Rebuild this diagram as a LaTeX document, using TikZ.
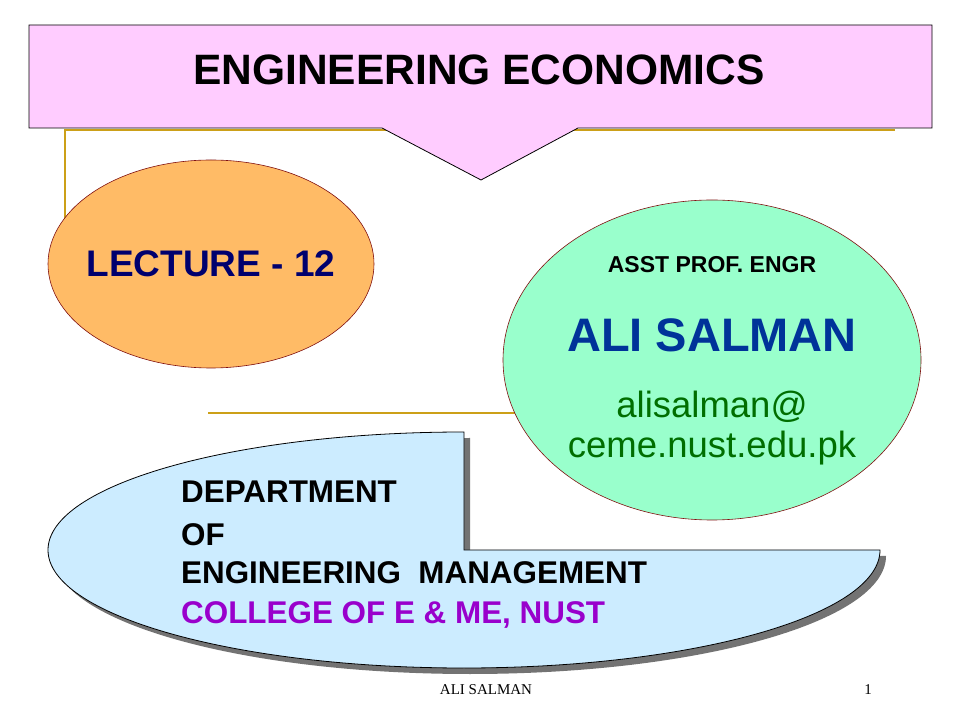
\documentclass[tikz,border=0pt]{standalone}
\usepackage{fontspec}
\setmainfont{Liberation Sans}
\newfontfamily\footfont{Liberation Serif}
\usetikzlibrary{positioning}
\usetikzlibrary{shapes.geometric}
\usetikzlibrary{calc}
\definecolor{bannerpink}{RGB}{255,204,255}
\definecolor{lectorange}{RGB}{255,187,102}
\definecolor{mintgreen}{RGB}{153,255,204}
\definecolor{paleblue}{RGB}{204,236,255}
\definecolor{edgered}{RGB}{128,16,16}
\definecolor{tmplgold}{RGB}{204,160,24}
\definecolor{navy}{RGB}{0,0,110}
\definecolor{namblue}{RGB}{0,51,153}
\definecolor{mailgreen}{RGB}{0,110,0}
\definecolor{nustpurple}{RGB}{153,0,204}
\tikzset{blob/.style={ellipse, draw=edgered, line width=0.6pt, inner sep=0pt}}
\tikzset{goldline/.style={draw=tmplgold, line width=2pt}}
\tikzset{deptline/.style={anchor=base west, inner sep=0pt, font=\fontsize{31.4}{36}\selectfont\bfseries}}
\tikzset{profline/.style={anchor=base, inner sep=0pt}}

\begin{document}
\begin{tikzpicture}[x=1pt,y=1pt]
\useasboundingbox (0,0) rectangle (960,720);
% template lines
\coordinate (gtop) at (65,590);
\coordinate (gend) at (895,590);
\coordinate (gmid) at (208,307);
\draw[goldline] (65,456) -- (gtop) -- (gend);
\draw[goldline] (gmid) -- (712,307);
% banner with pointer
\draw[fill=bannerpink, line width=0.8pt] (29,695) -- (932,695) -- (932,592) -- (578,592)
    -- (481,540) -- (382,592) -- (29,592) -- cycle;
\node[font=\fontsize{42.5}{48}\selectfont\bfseries] (title) at (479,650) {ENGINEERING ECONOMICS};
% lecture
\node[blob, fill=lectorange, minimum width=326, minimum height=208] (lecture) at (211,456) {};
\node[font=\fontsize{37}{42}\selectfont\bfseries, text=navy] (lecnum) at (lecture.center) {LECTURE - 12};
% lecturer
\node[blob, fill=mintgreen, minimum width=418, minimum height=320] (prof) at (712,360) {};
\node[profline, font=\fontsize{23}{26}\selectfont\bfseries] (rank) at ([yshift=87]prof.center) {ASST PROF. ENGR};
\node[profline, font=\fontsize{47}{52}\selectfont\bfseries, text=namblue] (name) at ([yshift=8]prof.center) {ALI SALMAN};
\node[profline, font=\fontsize{36.5}{40}\selectfont, text=mailgreen] (mail) at ([yshift=-58]prof.center) {alisalman@};
\node[profline, font=\fontsize{36.5}{40}\selectfont, text=mailgreen] (host) at ([yshift=-40]mail.base) {ceme.nust.edu.pk};
% department
\fill[black!55] (470,282) -- (470,164) -- (886,164)
    arc[start angle=0, end angle=-270, x radius=416, y radius=118] -- cycle;
\draw[fill=paleblue, line width=0.8pt] (464,288) -- (464,170) -- (880,170)
    arc[start angle=0, end angle=-270, x radius=416, y radius=118] -- cycle;
\node[deptline] (dept1) at (181,217) {DEPARTMENT};
\node[deptline] (dept2) at ([yshift=-42]dept1.base west) {OF};
\node[deptline] (dept3) at ([yshift=-38]dept2.base west) {ENGINEERING\ \ MANAGEMENT};
\node[deptline, text=nustpurple] (dept4) at ([yshift=-40]dept3.base west) {COLLEGE OF E \& ME, NUST};
% footer
\node[font=\footfont\fontsize{15}{18}\selectfont] (foot) at (486,30) {ALI SALMAN};
\node[font=\footfont\fontsize{15}{18}\selectfont] (page) at (868,30) {1};
\end{tikzpicture}
\end{document}
